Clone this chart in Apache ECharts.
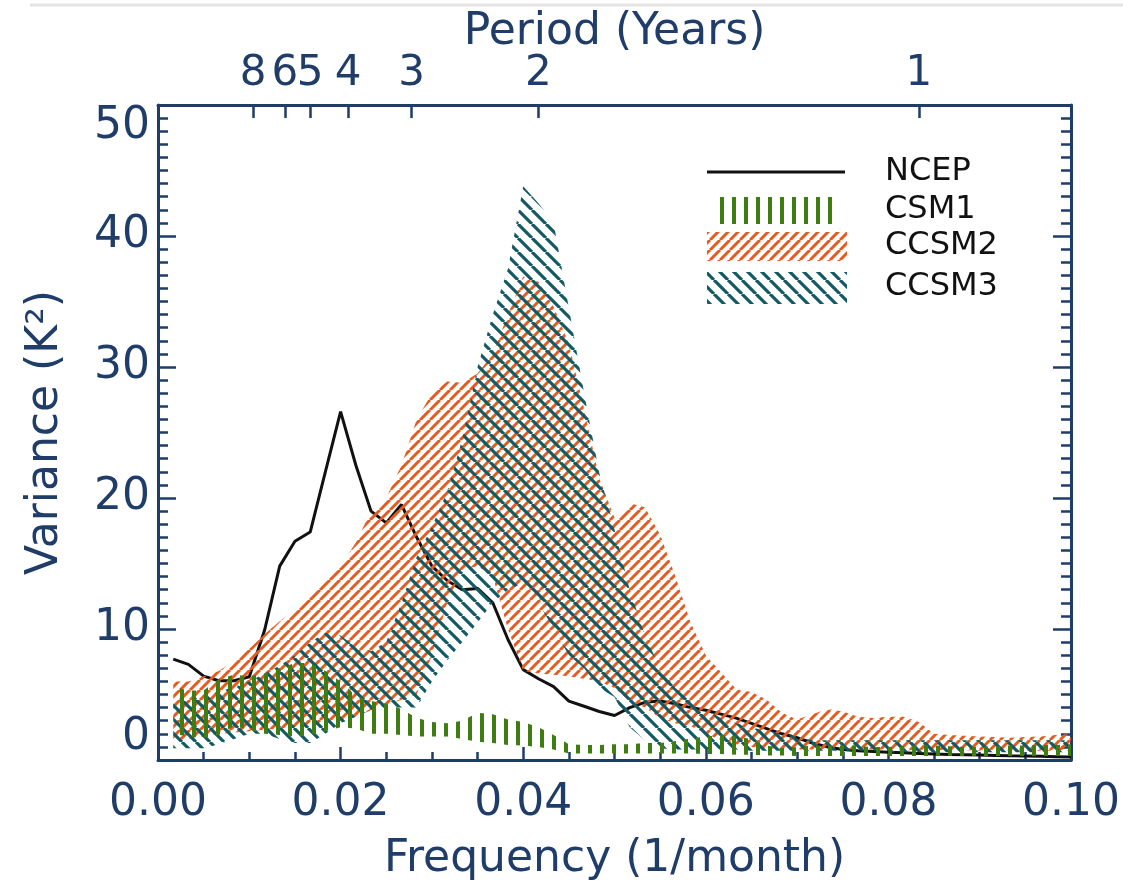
<!DOCTYPE html>
<html lang="en">
<head>
<meta charset="UTF-8">
<title>Variance spectra</title>
<style>
  html, body { margin: 0; padding: 0; background: #fff; }
  #container { width: 1123px; height: 888px; }
</style>
</head>
<body>
<div id="container"></div>
<script src="https://cdn.jsdelivr.net/npm/echarts@6/dist/echarts.min.js"></script>
<script>
// frequency grid (1/month), k/600
var freq = [0.00167, 0.00333, 0.005, 0.00667, 0.00833, 0.01, 0.01167, 0.01333, 0.015, 0.01667,
            0.01833, 0.02, 0.02167, 0.02333, 0.025, 0.02667, 0.02833, 0.03, 0.03167, 0.03333,
            0.035, 0.03667, 0.03833, 0.04, 0.04167, 0.04333, 0.045, 0.04667, 0.04833, 0.05,
            0.05167, 0.05333, 0.055, 0.05667, 0.05833, 0.06, 0.06167, 0.06333, 0.065, 0.06667,
            0.06833, 0.07, 0.07167, 0.07333, 0.075, 0.07667, 0.07833, 0.08, 0.08167, 0.08333,
            0.085, 0.08667, 0.08833, 0.09, 0.09167, 0.09333, 0.095, 0.09667, 0.09833, 0.1];

var ncep = [7.7, 7.3, 6.4, 6.05, 6.05, 6.35, 9.9, 14.8, 16.7, 17.4,
            22.0, 26.6, 22.5, 19.0, 18.1, 19.5, 17.0, 14.8, 13.7, 13.0,
            13.1, 12.0, 9.2, 6.9, 6.2, 5.6, 4.5, 4.1, 3.7, 3.4,
            4.0, 4.4, 4.5, 4.3, 4.0, 3.8, 3.5, 3.2, 2.8, 2.4,
            2.0, 1.7, 1.3, 1.0, 0.8, 0.7, 0.65, 0.6, 0.55, 0.5,
            0.45, 0.42, 0.4, 0.38, 0.35, 0.32, 0.3, 0.28, 0.25, 0.22];

var csm1Hi = [5.6, 5.3, 5.3, 6.2, 6.5, 6.4, 6.6, 7.0, 7.4, 7.4,
              6.8, 6.0, 4.9, 4.5, 4.3, 3.9, 3.2, 2.9, 2.8, 3.0,
              3.6, 3.5, 3.1, 2.9, 2.5, 1.9, 1.2, 1.15, 1.15, 1.2,
              1.2, 1.3, 1.3, 1.45, 1.65, 1.8, 1.9, 1.8, 1.6, 1.1,
              0.9, 1.0, 1.1, 1.1, 1.1, 1.05, 1.0, 1.0, 1.05, 1.1,
              1.1, 1.05, 1.0, 1.0, 1.05, 1.1, 1.1, 1.15, 1.15, 1.2];
var csm1Lo = [2.0, 1.8, 1.7, 1.9, 2.6, 2.3, 2.0, 1.9, 1.8, 1.9,
              2.2, 2.5, 2.4, 2.0, 2.0, 1.9, 1.8, 1.8, 1.8, 1.6,
              1.4, 1.3, 1.15, 1.1, 1.0, 0.8, 0.5, 0.5, 0.5, 0.5,
              0.5, 0.5, 0.5, 0.5, 0.5, 0.45, 0.45, 0.4, 0.4, 0.35,
              0.35, 0.3, 0.3, 0.3, 0.3, 0.3, 0.3, 0.3, 0.3, 0.3,
              0.3, 0.3, 0.3, 0.3, 0.3, 0.3, 0.3, 0.3, 0.3, 0.3];

var ccsm2Hi = [6.0, 6.0, 6.4, 6.8, 7.6, 8.5, 9.6, 10.6, 11.5, 12.5,
               13.6, 14.8, 16.6, 19.0, 20.0, 22.5, 26.0, 28.0, 28.9, 28.8,
               29.5, 31.0, 34.0, 36.9, 36.5, 34.6, 31.8, 26.8, 21.5, 18.5,
               19.6, 19.3, 17.2, 14.0, 10.5, 8.0, 6.7, 5.4, 5.2, 4.6,
               3.6, 3.1, 3.5, 3.9, 3.7, 3.3, 3.2, 3.3, 3.3, 2.9,
               2.0, 1.9, 1.85, 1.8, 1.75, 1.7, 1.75, 1.8, 1.9, 2.0];
var ccsm2Lo = [1.5, 1.6, 1.8, 2.0, 2.1, 2.2, 2.3, 2.4, 2.5, 2.6,
               2.8, 3.0, 3.3, 3.8, 4.2, 4.6, 5.0, 8.0, 12.0, 14.5,
               14.8, 14.0, 10.0, 6.8, 6.6, 6.5, 6.4, 6.2, 6.0, 5.5,
               4.5, 4.0, 3.2, 2.8, 2.6, 2.0, 1.5, 1.2, 1.0, 0.9,
               0.8, 0.8, 0.8, 0.8, 0.8, 0.8, 0.8, 0.8, 0.75, 0.75,
               0.75, 0.75, 0.75, 0.7, 0.7, 0.7, 0.7, 0.7, 0.7, 0.7];

var ccsm3Hi = [4.3, 4.6, 4.9, 5.2, 5.6, 6.0, 6.6, 7.2, 8.0, 9.0,
               9.7, 9.5, 8.6, 8.3, 9.0, 12.0, 15.5, 17.8, 20.5, 24.5,
               30.0, 34.0, 37.5, 43.8, 42.5, 41.0, 34.5, 28.0, 21.9, 17.6,
               13.0, 9.5, 7.0, 5.5, 4.5, 3.8, 3.2, 2.8, 2.5, 2.2,
               2.0, 1.8, 1.5, 1.5, 1.5, 1.5, 1.5, 1.5, 1.5, 1.5,
               1.5, 1.5, 1.5, 1.5, 1.5, 1.5, 1.5, 1.5, 1.5, 1.5];
var ccsm3Lo = [0.9, 0.9, 0.9, 1.2, 1.6, 2.0, 2.0, 1.6, 1.3, 1.3,
               2.0, 2.8, 3.3, 3.8, 4.0, 4.0, 4.0, 6.0, 7.6, 9.0,
               10.5, 12.0, 13.0, 13.5, 12.0, 10.0, 8.0, 7.0, 5.5, 4.8,
               2.5, 1.5, 0.9, 0.8, 0.8, 0.8, 0.8, 0.8, 0.7, 0.7,
               0.7, 0.7, 0.7, 0.7, 0.7, 0.7, 0.7, 0.6, 0.6, 0.6,
               0.6, 0.6, 0.6, 0.6, 0.6, 0.6, 0.6, 0.6, 0.6, 0.6];

// top axis: period in years
var periodYears = [8, 6, 5, 4, 3, 2, 1];

var navy = '#1f3d68';
var fontFam = 'DejaVu Sans';

function hatch(size, color, width, dir) {
    var c = document.createElement('canvas');
    c.width = size; c.height = size;
    var ctx = c.getContext('2d');
    ctx.strokeStyle = color;
    ctx.lineWidth = width;
    ctx.beginPath();
    for (var o = -size; o <= size; o += size) {
        if (dir === '/') { ctx.moveTo(o, size); ctx.lineTo(o + size, 0); }
        else { ctx.moveTo(o, 0); ctx.lineTo(o + size, size); }
    }
    ctx.stroke();
    return { image: c, repeat: 'repeat' };
}
function vbars(step, w, color) {
    var c = document.createElement('canvas');
    c.width = step; c.height = 4;
    var ctx = c.getContext('2d');
    ctx.fillStyle = color;
    ctx.fillRect(0, 0, w, 4);
    return { image: c, repeat: 'repeat' };
}

var greenPat = vbars(12, 4, '#3f7d12');
var orangePat = hatch(10, '#e65a1f', 3, '/');
var tealPat = hatch(14, '#145a63', 3.2, '\\');

function band(name, lo, hi, pat, z) {
    return {
        type: 'custom',
        name: name,
        z: z,
        clip: true,
        data: freq.map(function (f, i) { return [f, lo[i], hi[i]]; }),
        encode: { x: 0, y: [1, 2] },
        renderItem: function (params, api) {
            if (params.dataIndex !== 0) return null;
            var pts = [];
            for (var i = 0; i < freq.length; i++) pts.push(api.coord([freq[i], hi[i]]));
            for (var j = freq.length - 1; j >= 0; j--) pts.push(api.coord([freq[j], lo[j]]));
            return { type: 'polygon', shape: { points: pts }, style: { fill: pat } };
        }
    };
}

var periodFreq = periodYears.map(function (p) { return 1 / (12 * p); });

var dom = document.getElementById('container');
var myChart = echarts.init(dom, null, { renderer: 'canvas' });

var labelStyle = { color: navy, fontFamily: fontFam, fontSize: 44 };
var tickLine = { color: navy, width: 2.5 };

var option = {
    backgroundColor: '#fff',
    animation: false,
    grid: { left: 158, right: 45, top: 105, bottom: 128 },
    xAxis: [{
        type: 'value', position: 'bottom', min: 0, max: 0.1, interval: 0.02,
        name: 'Frequency (1/month)', nameLocation: 'middle', nameGap: 78,
        nameTextStyle: labelStyle,
        axisLine: { onZero: false, lineStyle: { color: navy, width: 3 } },
        axisTick: { inside: true, length: 13, lineStyle: tickLine },
        minorTick: { show: true, splitNumber: 4, length: 8, lineStyle: tickLine },
        splitLine: { show: false },
        axisLabel: { color: navy, fontFamily: fontFam, fontSize: 44, margin: 22,
            formatter: function (v) { return v.toFixed(2); } }
    }, {
        type: 'value', position: 'top', min: 0, max: 0.1,
        name: 'Period (Years)', nameLocation: 'middle', nameGap: 50,
        nameMoveOverlap: false,
        nameTextStyle: labelStyle,
        axisLine: { onZero: false, lineStyle: { color: navy, width: 3 } },
        axisTick: { inside: true, length: 13, customValues: periodFreq, lineStyle: tickLine },
        splitLine: { show: false },
        axisLabel: { color: navy, fontFamily: fontFam, fontSize: 42, margin: 10,
            customValues: periodFreq,
            formatter: function (v) { return String(Math.round(1 / (12 * v))); } }
    }],
    yAxis: [{
        type: 'value', position: 'left', min: 0, max: 50, interval: 10,
        name: 'Variance (K²)', nameLocation: 'middle', nameGap: 90,
        nameTextStyle: labelStyle,
        axisLine: { show: true, onZero: false, lineStyle: { color: navy, width: 3 } },
        axisTick: { show: true, inside: true, length: 18, lineStyle: tickLine },
        minorTick: { show: true, splitNumber: 10, length: 10, lineStyle: tickLine },
        splitLine: { show: false },
        axisLabel: { color: navy, fontFamily: fontFam, fontSize: 44, margin: 8,
            verticalAlignMinLabel: 'bottom', verticalAlignMaxLabel: 'top' }
    }, {
        type: 'value', position: 'right', min: 0, max: 50, interval: 10,
        axisLine: { show: true, onZero: false, lineStyle: { color: navy, width: 3 } },
        axisTick: { show: true, inside: true, length: 18, lineStyle: tickLine },
        minorTick: { show: true, splitNumber: 10, length: 10, lineStyle: tickLine },
        splitLine: { show: false },
        axisLabel: { show: false }
    }],
    graphic: [
        { type: 'line', shape: { x1: 30, y1: 5, x2: 1123, y2: 5 }, style: { stroke: '#e4e4e4', lineWidth: 3 } },
        { type: 'line', shape: { x1: 707, y1: 172, x2: 845, y2: 172 }, style: { stroke: '#111', lineWidth: 3 }, z: 10 },
        { type: 'rect', shape: { x: 712, y: 197, width: 128, height: 27 }, style: { fill: greenPat }, z: 10 },
        { type: 'rect', shape: { x: 707, y: 232, width: 140, height: 29 }, style: { fill: orangePat }, z: 10 },
        { type: 'rect', shape: { x: 707, y: 272, width: 140, height: 32 }, style: { fill: tealPat }, z: 10 },
        { type: 'text', x: 885, y: 172, style: { text: 'NCEP', fill: '#111', font: '32px "DejaVu Sans"', verticalAlign: 'middle' }, z: 10 },
        { type: 'text', x: 885, y: 210, style: { text: 'CSM1', fill: '#111', font: '32px "DejaVu Sans"', verticalAlign: 'middle' }, z: 10 },
        { type: 'text', x: 885, y: 246, style: { text: 'CCSM2', fill: '#111', font: '32px "DejaVu Sans"', verticalAlign: 'middle' }, z: 10 },
        { type: 'text', x: 885, y: 287, style: { text: 'CCSM3', fill: '#111', font: '32px "DejaVu Sans"', verticalAlign: 'middle' }, z: 10 }
    ],
    series: [
        {
            type: 'line', name: 'NCEP', z: 2, symbol: 'none',
            data: freq.map(function (f, i) { return [f, ncep[i]]; }),
            lineStyle: { color: '#111', width: 3 }
        },
        band('CCSM2', ccsm2Lo, ccsm2Hi, orangePat, 3),
        band('CCSM3', ccsm3Lo, ccsm3Hi, tealPat, 4),
        band('CSM1', csm1Lo, csm1Hi, greenPat, 5)
    ]
};
myChart.setOption(option, true);
</script>
</body>
</html>
